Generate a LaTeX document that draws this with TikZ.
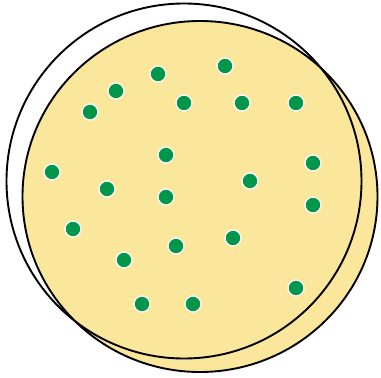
\documentclass[tikz,border=0pt]{standalone}
\definecolor{plate}{RGB}{250,231,156}
\definecolor{colony}{RGB}{0,150,76}
\tikzset{
  dot/.style={circle, fill=colony, draw=white, line width=1.3pt, inner sep=0pt, minimum size=16pt},
  rim/.style={draw=black, line width=1.9pt}
}
\begin{document}
\begin{tikzpicture}[x=1pt,y=-1pt]
\useasboundingbox (0,0) rectangle (381,378);
\fill[plate, rim] (200,196.5) ellipse (177.5 and 175.5);
\draw[rim] (184,181) circle (177.5);
\foreach \n/\x/\y in {a/225/66, b/158/74, c/116/91, d/90/112, e/184/103, f/242/103, g/296/103,
  h/166/155, i/313/163, j/52/172, k/107/189, l/250/181, m/166/197, n/313/205, o/73/229,
  p/176/246, q/233/238, r/124/260, s/296/288, t/142/304, u/193/304}
  \node[dot] (\n) at (\x,\y) {};
\end{tikzpicture}
\end{document}
